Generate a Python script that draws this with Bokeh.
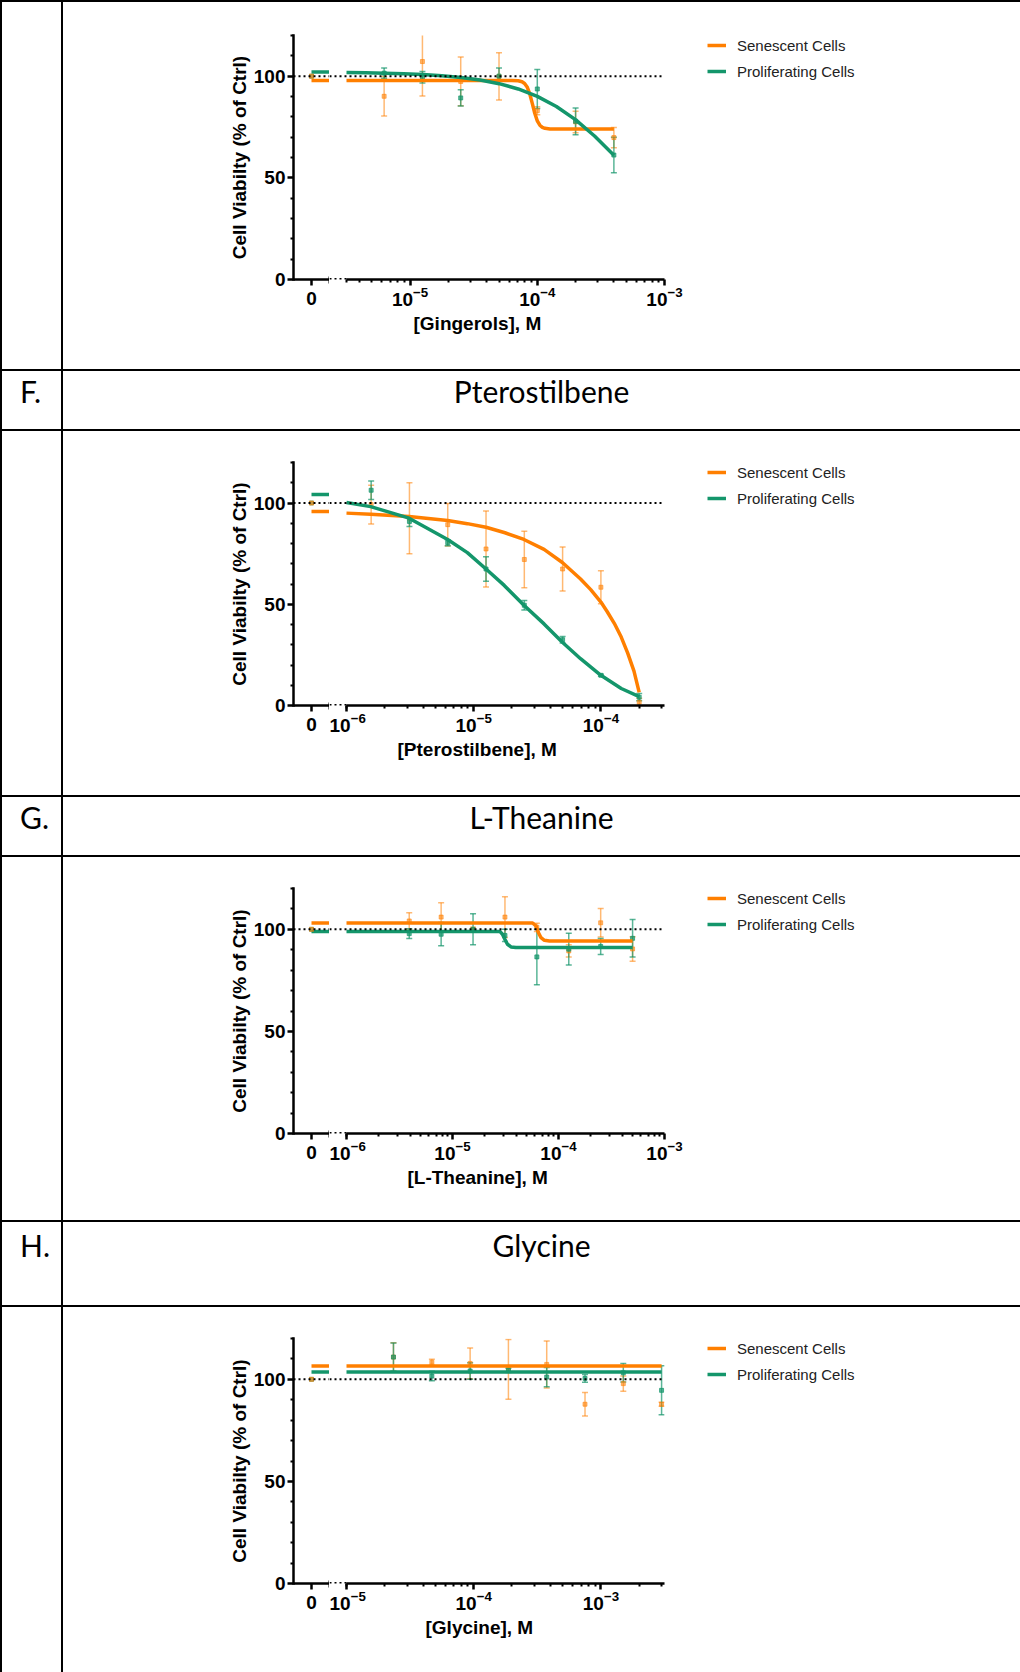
import math
from bokeh.plotting import figure
from bokeh.models import (Range1d, LinearAxis, FixedTicker, LogTickFormatter, Span,
                          Whisker, TeeHead, ColumnDataSource, Legend, Title, Div)
from bokeh.layouts import row, column
from bokeh.embed import file_html
from bokeh.resources import INLINE

# ---------------- data ----------------
CTRL_CONC = [0.0]
CTRL_MEAN = [100.0]
Y_MAJOR = [0, 50, 100]
Y_MINOR = [10, 20, 30, 40, 60, 70, 80, 90, 110, 120]
SERIES = ["Senescent Cells", "Proliferating Cells"]
Y_LABEL = "Cell Viabilty (% of Ctrl)"

# E. Gingerols
ging_conc = [6.25e-6, 1.25e-5, 2.5e-5, 5e-5, 1e-4, 2e-4, 4e-4]
ging_sen_mean = [90.1, 107.2, 97.4, 99.9, 83.0, 77.5, 69.8]
ging_sen_err = [9.7, 17.0, 12.0, 11.6, 2.0, 5.3, 5.0]
ging_pro_mean = [101.5, 99.5, 89.3, 100.0, 93.7, 77.8, 61.2]
ging_pro_err = [2.5, 2.8, 4.0, 4.0, 9.6, 6.6, 8.7]
ging_sen_fit0 = 97.9
ging_pro_fit0 = 102.0
ging_sen_fit_x = [3.162e-6, 6.31e-5, 7.079e-5, 7.586e-5, 7.943e-5, 8.318e-5, 8.710e-5, 9.120e-5,
                  9.550e-5, 1.0e-4, 1.047e-4, 1.096e-4, 1.148e-4, 1.259e-4, 4.0e-4]
ging_sen_fit_y = [97.9, 97.9, 97.72, 97.26, 96.43, 94.69, 91.44, 86.72,
                  81.74, 78.01, 75.87, 74.82, 74.35, 74.06, 74.0]
ging_pro_fit_x = [3.162e-6, 4.467e-6, 6.31e-6, 8.913e-6, 1.259e-5, 1.778e-5, 2.512e-5, 3.548e-5,
                  5.012e-5, 7.079e-5, 1.0e-4, 1.413e-4, 1.995e-4, 2.818e-4, 4.0e-4]
ging_pro_fit_y = [101.76, 101.65, 101.47, 101.21, 100.82, 100.24, 99.38, 98.13,
                  96.31, 93.71, 90.06, 85.10, 78.62, 70.56, 61.16]

# F. Pterostilbene
pter_conc = [1.5625e-6, 3.125e-6, 6.25e-6, 1.25e-5, 2.5e-5, 5e-5, 1e-4, 2e-4]
pter_sen_mean = [99.2, 92.5, 89.3, 77.3, 72.1, 67.4, 58.4, 1.6]
pter_sen_err = [9.6, 17.5, 10.5, 18.8, 14.0, 10.9, 8.1, 2.0]
pter_pro_mean = [106.3, 90.9, 80.4, 67.4, 49.5, 32.5, 14.9, 4.1]
pter_pro_err = [4.6, 2.5, 1.5, 6.0, 2.3, 1.6, 0.5, 1.8]
pter_sen_fit0 = 95.8
pter_pro_fit0 = 104.2
pter_sen_fit_x = [1.0e-6, 1.549e-6, 3.105e-6, 6.237e-6, 8.913e-6, 1.25e-5, 1.762e-5, 2.483e-5,
                  3.573e-5, 4.977e-5, 6.918e-5, 8.318e-5, 1.0e-4, 1.122e-4, 1.274e-4,
                  1.445e-4, 1.622e-4, 1.820e-4, 2.0e-4]
pter_sen_fit_y = [95.0, 94.5, 93.3, 91.4, 89.8, 88.0, 85.3, 82.0,
                  77.1, 70.6, 62.5, 57.2, 51.1, 46.3, 40.6,
                  33.8, 26.0, 17.0, 6.5]
pter_pro_fit_x = [1.0e-6, 1.549e-6, 3.105e-6, 6.237e-6, 8.913e-6, 1.25e-5, 1.738e-5, 2.483e-5,
                  3.573e-5, 4.977e-5, 6.918e-5, 1.0e-4, 1.445e-4, 2.0e-4]
pter_pro_fit_y = [100.2, 98.2, 92.5, 82.0, 75.5, 67.4, 59.3, 49.5,
                  40.3, 31.2, 23.1, 14.9, 8.4, 4.4]

# G. L-Theanine
thea_conc = [3.90625e-6, 7.8125e-6, 1.5625e-5, 3.125e-5, 6.25e-5, 1.25e-4, 2.5e-4, 5e-4]
thea_sen_mean = [104.1, 106.0, 100.0, 106.0, 101.0, 89.4, 103.2, 90.4]
thea_sen_err = [4.0, 7.0, 1.0, 10.0, 2.0, 3.0, 7.0, 6.0]
thea_pro_mean = [97.9, 97.6, 100.0, 97.0, 86.5, 90.3, 91.6, 95.6]
thea_pro_err = [2.4, 5.7, 7.6, 3.0, 13.6, 7.8, 3.9, 9.2]
thea_sen_fit0 = 103.1
thea_pro_fit0 = 98.9
thea_sen_fit_x = [1.0e-6, 5.70e-5, 6.14e-5, 6.46e-5, 6.84e-5, 7.36e-5, 8.22e-5, 5.0e-4]
thea_sen_fit_y = [103.1, 103.1, 101.6, 98.4, 95.9, 94.6, 94.3, 94.3]
thea_pro_fit_x = [1.0e-6, 2.81e-5, 2.96e-5, 3.12e-5, 3.30e-5, 3.56e-5, 3.96e-5, 5.0e-4]
thea_pro_fit_y = [98.9, 98.9, 97.6, 95.1, 92.7, 91.4, 91.1, 91.1]

# H. Glycine
gly_conc = [2.34e-5, 4.69e-5, 9.375e-5, 1.875e-4, 3.75e-4, 7.5e-4, 1.5e-3, 3e-3]
gly_sen_mean = [110.9, 108.4, 107.8, 104.9, 107.3, 87.8, 97.9, 87.8]
gly_sen_err = [7.0, 1.4, 7.5, 14.6, 11.5, 5.7, 3.7, 1.0]
gly_pro_mean = [110.9, 101.6, 104.1, 104.4, 101.1, 100.5, 103.2, 94.6]
gly_pro_err = [6.9, 2.3, 4.0, 1.0, 4.7, 1.9, 4.5, 12.0]
gly_sen_fit0 = 106.5
gly_pro_fit0 = 103.6
gly_sen_fit_x = [1.0e-5, 3.0e-3]
gly_sen_fit_y = [106.5, 106.5]
gly_pro_fit_x = [1.0e-5, 3.0e-3]
gly_pro_fit_y = [103.6, 103.6]

# ---------------- style ----------------
ORANGE = "#FF7F00"
GREEN = "#14966B"
FONT = "Liberation Sans"
HFONT = "Lato"
ZERO_END = 1.0
FRAME_H = 246
GAP_PX = 17
LOG_PX = 318
LOG_FIG_LEFT = 329          # page x of the log-figure canvas
LOG_FIG_W = 371
LEG_FIG_W = 1020 - LOG_FIG_LEFT - LOG_FIG_W


def vline(h):
    return Div(width=2, height=h, margin=0, styles={"background-color": "black"})


def hline():
    return Div(width=1020, height=2, margin=0, styles={"background-color": "black"})


def style_axis(ax):
    ax.axis_line_width = 2.5
    ax.axis_line_color = "black"
    ax.major_tick_line_width = 2.5
    ax.minor_tick_line_width = 2
    ax.major_tick_in = 0
    ax.major_tick_out = 6
    ax.minor_tick_in = 0
    ax.minor_tick_out = 3
    ax.major_label_text_font = FONT
    ax.major_label_text_font_size = "19px"
    ax.major_label_text_font_style = "bold"
    ax.major_label_text_color = "black"


def base_fig(w, h, top, bottom, left, right, **kw):
    p = figure(width=w, height=h, output_backend="svg", toolbar_location=None,
               min_border_left=left, min_border_right=right, min_border_top=top,
               min_border_bottom=bottom, outline_line_color=None,
               background_fill_color="white", border_fill_color="white", **kw)
    return p


def panel(H, top, legend_top, log_a, log_b, majors, conc, sm, se, pm, pe,
          scx, scy, pcx, pcy, s0, p0, xlabel, xlabel_left):
    bottom = H - top - FRAME_H
    yr = Range1d(0, 120)

    # ---- zero segment + y axis ----
    zf = base_fig(266, H, top, bottom, 230, 0, x_axis_type=None, y_axis_type=None,
                  x_range=Range1d(-1, ZERO_END), y_range=yr)
    yax = LinearAxis(ticker=FixedTicker(ticks=Y_MAJOR, minor_ticks=Y_MINOR),
                     axis_label=Y_LABEL)
    style_axis(yax)
    yax.axis_line_cap = "square"
    yax.major_label_standoff = 2
    yax.axis_label_standoff = 1
    yax.axis_label_text_font = FONT
    yax.axis_label_text_font_size = "19px"
    yax.axis_label_text_font_style = "bold"
    yax.axis_label_text_color = "black"
    zf.add_layout(yax, "left")
    zax = LinearAxis(ticker=FixedTicker(ticks=[0], minor_ticks=[ZERO_END]))
    style_axis(zax)
    zax.minor_tick_in = 3
    zax.minor_tick_out = 4
    zax.major_label_standoff = 6
    zf.add_layout(zax, "below")
    zf.add_layout(Span(location=100, dimension="width", line_dash="2 3",
                       line_width=2, line_color="black"))
    zf.line(x=[CTRL_CONC[0], ZERO_END], y=[s0, s0], line_color=ORANGE, line_width=3.5)
    zf.line(x=[CTRL_CONC[0], ZERO_END], y=[p0, p0], line_color=GREEN, line_width=3.5)
    zf.scatter(x=CTRL_CONC, y=CTRL_MEAN, marker="square", size=4, color=GREEN, alpha=0.6)
    zf.scatter(x=CTRL_CONC, y=CTRL_MEAN, marker="square", size=4, color=ORANGE, alpha=0.6)

    # ---- log segment ----
    dec_px = LOG_PX / (log_b - log_a)
    xstart = 10 ** (log_a - GAP_PX / dec_px)
    lf = base_fig(LOG_FIG_W, H, top, bottom, 0, LOG_FIG_W - GAP_PX - LOG_PX,
                  x_axis_type="log", y_axis_type=None,
                  x_range=Range1d(xstart, 10 ** log_b), y_range=yr)
    lf.grid.visible = False
    minors = [10 ** log_a]
    for e in range(math.floor(log_a), math.ceil(log_b)):
        for m in range(2, 10):
            v = m * 10.0 ** e
            if log_a < math.log10(v) <= log_b + 1e-9:
                minors.append(v)
    lax = lf.xaxis[0]
    lax.ticker = FixedTicker(ticks=majors, minor_ticks=minors)
    lax.formatter = LogTickFormatter()
    lax.bounds = (10 ** log_a, 10 ** log_b)
    style_axis(lax)
    lax.major_label_standoff = 1
    lf.add_layout(Span(location=100, dimension="width", line_dash="2 3",
                       line_width=2, line_color="black"))
    # axis break (dotted)
    lf.line(x=[xstart, 10 ** log_a], y=[0, 0], line_dash="2 3", line_width=3,
            line_color="black")

    for (mean, err, col, a) in [(sm, se, ORANGE, 0.55), (pm, pe, GREEN, 0.7)]:
        src = ColumnDataSource(dict(x=conc, y=mean,
                                    lo=[m - e for m, e in zip(mean, err)],
                                    hi=[m + e for m, e in zip(mean, err)]))
        w = Whisker(source=src, base="x", lower="lo", upper="hi", line_color=col,
                    line_alpha=a, line_width=1.5,
                    upper_head=TeeHead(size=6, line_color=col, line_alpha=a, line_width=1.5),
                    lower_head=TeeHead(size=6, line_color=col, line_alpha=a, line_width=1.5))
        lf.add_layout(w)
        lf.scatter(x="x", y="y", source=src, marker="square", size=4, color=col, alpha=a)

    lf.line(x=scx, y=scy, line_color=ORANGE, line_width=3.5)
    lf.line(x=pcx, y=pcy, line_color=GREEN, line_width=3.5)

    t = Title(text=xlabel, align="left", offset=xlabel_left - LOG_FIG_LEFT, text_font=FONT,
              text_font_size="19px", text_font_style="bold", text_color="black",
              standoff=4)
    lf.add_layout(t, "below")

    # ---- legend figure (proxy renderers are hidden; only the legend shows) ----
    lg = base_fig(LEG_FIG_W, H, legend_top, 0, 7, 0, x_axis_type=None, y_axis_type=None,
                  x_range=Range1d(0, 1), y_range=Range1d(0, 1))
    r1 = lg.line(x=scx, y=scy, line_color=ORANGE, line_width=3.5, visible=False)
    r2 = lg.line(x=pcx, y=pcy, line_color=GREEN, line_width=3.5, visible=False)
    leg = Legend(items=[(SERIES[0], [r1]), (SERIES[1], [r2])], location="top_left",
                 margin=0, padding=5, glyph_width=19, glyph_height=20, label_height=20,
                 spacing=6, label_standoff=11, label_text_font=FONT,
                 label_text_font_size="15px", label_text_color="#222222",
                 border_line_color=None, background_fill_alpha=0,
                 click_policy="none", inactive_fill_alpha=0)
    lg.add_layout(leg)

    cell = Div(width=59, height=H, margin=0)
    return row(vline(H), cell, vline(H), zf, lf, lg, spacing=0)


def header(h, letter, title, pad):
    st = (f"font-family:{HFONT}; font-size:30px; line-height:30px; color:black; "
          f"padding-top:{pad}px;")
    left = Div(text=f"<div style='{st} padding-left:18px;'>{letter}</div>",
               width=59, height=h, margin=0)
    right = Div(text=f"<div style='{st} width:957px; text-align:center;'>{title}</div>",
                width=957, height=h, margin=0)
    return row(vline(h), left, vline(h), right, spacing=0)


p1 = panel(367, 31, 33, -5.5, -3.0, [1e-5, 1e-4, 1e-3], ging_conc,
           ging_sen_mean, ging_sen_err, ging_pro_mean, ging_pro_err,
           ging_sen_fit_x, ging_sen_fit_y, ging_pro_fit_x, ging_pro_fit_y,
           ging_sen_fit0, ging_pro_fit0, "[Gingerols], M", 413)
p2 = panel(364, 28, 31, -6.0, -3.5, [1e-6, 1e-5, 1e-4], pter_conc,
           pter_sen_mean, pter_sen_err, pter_pro_mean, pter_pro_err,
           pter_sen_fit_x, pter_sen_fit_y, pter_pro_fit_x, pter_pro_fit_y,
           pter_sen_fit0, pter_pro_fit0, "[Pterostilbene], M", 397)
p3 = panel(363, 30, 31, -6.0, -3.0, [1e-6, 1e-5, 1e-4, 1e-3], thea_conc,
           thea_sen_mean, thea_sen_err, thea_pro_mean, thea_pro_err,
           thea_sen_fit_x, thea_sen_fit_y, thea_pro_fit_x, thea_pro_fit_y,
           thea_sen_fit0, thea_pro_fit0, "[L-Theanine], M", 407)
p4 = panel(365, 30, 31, -5.0, -2.5, [1e-5, 1e-4, 1e-3], gly_conc,
           gly_sen_mean, gly_sen_err, gly_pro_mean, gly_pro_err,
           gly_sen_fit_x, gly_sen_fit_y, gly_pro_fit_x, gly_pro_fit_y,
           gly_sen_fit0, gly_pro_fit0, "[Glycine], M", 425)

page = column(hline(), p1, hline(), header(58, "F.", "Pterostilbene", 5), hline(), p2,
              hline(), header(58, "G.", "L-Theanine", 5), hline(), p3,
              hline(), header(83, "H.", "Glycine", 8), hline(), p4, spacing=0)

open("out.html", "w").write(file_html(page, INLINE))
